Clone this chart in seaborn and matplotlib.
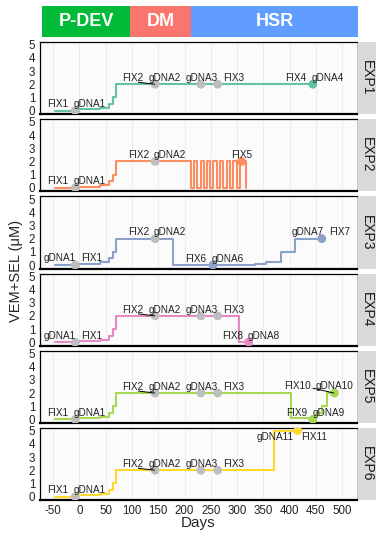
import numpy as np
import pandas as pd
import matplotlib
matplotlib.use("Agg")
import matplotlib.pyplot as plt
import seaborn as sns

sns.set_style("white")
plt.rcParams['font.family'] = ['Liberation Sans', 'DejaVu Sans']
plt.rcParams['axes.unicode_minus'] = False

# experiments and colours
experiments = ["EXP1", "EXP2", "EXP3", "EXP4", "EXP5", "EXP6"]
exp_colors = ["#66C2A5", "#FC8D62", "#8DA0CB", "#E78AC3", "#A6D854", "#FFD92F"]
grey_pt = "#BEBEBE"

# treatment phases (header bar)
phases = ["P-DEV", "DM", "HSR"]
phase_start = [-71, 96, 212]
phase_end = [96, 212, 528]
phase_colors = ["#00BA38", "#F8766D", "#619CFF"]

# dose schedule (step change points): shared ramp then per-experiment tail
ramp_days = [-47, 0, 40, 57, 63, 70]
ramp_dose = [0, 0.1, 0.2, 0.5, 1, 2]

exp1_days = ramp_days + [445]
exp1_dose = ramp_dose + [2]
exp2_days = ramp_days + [212, 218, 224, 231, 237, 243, 249, 255, 262, 268, 274, 280, 286, 293, 299, 305, 317]
exp2_dose = ramp_dose + [0, 2, 0, 2, 0, 2, 0, 2, 0, 2, 0, 2, 0, 2, 0, 2, 0]
exp3_days = ramp_days + [178, 334, 354, 384, 411, 461]
exp3_dose = ramp_dose + [0, 0.1, 0.25, 1, 2, 2]
exp4_days = ramp_days + [303, 322]
exp4_dose = ramp_dose + [0, 0]
exp5_days = ramp_days + [403, 450, 461, 471, 485]
exp5_dose = ramp_dose + [0.1, 0.5, 1, 2, 2]
exp6_days = ramp_days + [371, 415]
exp6_dose = ramp_dose + [5, 5]

all_days = [exp1_days, exp2_days, exp3_days, exp4_days, exp5_days, exp6_days]
all_dose = [exp1_dose, exp2_dose, exp3_dose, exp4_dose, exp5_dose, exp6_dose]

# sample points: grey = shared checkpoints, coloured = experiment end points
chk_day = [-8, 144, 231, 263]
chk_dose = [0, 2, 2, 2]
n_chk = [4, 2, 2, 4, 4, 4]
end_day = [[444], [308], [254, 461], [322], [444, 485], [415]]
end_dose = [[2], [2], [0, 2], [0], [0, 2], [5]]

# labels (text, x, y)
base_lab = [("FIX1", -41, 0.5), ("gDNA1", 20, 0.5), ("FIX2", 101, 2.48), ("gDNA2", 162, 2.48),
            ("gDNA3", 233, 2.48), ("FIX3", 294, 2.48)]
swap_lab = [("gDNA1", -38, 0.5), ("FIX1", 23, 0.5)]
labels = [
    base_lab + [("FIX4", 411, 2.48), ("gDNA4", 472, 2.48)],
    base_lab[:2] + [("FIX2", 112, 2.48), ("gDNA2", 172, 2.48), ("FIX5", 308, 2.48)],
    swap_lab + [("FIX2", 112, 2.48), ("gDNA2", 172, 2.48), ("FIX6", 222, 0.48),
                ("gDNA6", 282, 0.48), ("gDNA7", 434, 2.48), ("FIX7", 494, 2.48)],
    swap_lab + base_lab[2:] + [("FIX8", 291, 0.5), ("gDNA8", 351, 0.5)],
    base_lab + [("FIX10", 415, 2.5), ("gDNA10", 486, 2.5), ("FIX9", 413, 0.5), ("gDNA9", 474, 0.5)],
    base_lab + [("gDNA11", 373, 4.55), ("FIX11", 447, 4.55)],
]
# leader segments (x0, y0, x1, y1)
fix2_seg = (112, 2.15, 143, 2.0)
segments = [[fix2_seg], [], [], [fix2_seg], [fix2_seg, (444, 2.37, 484, 2.0)], [fix2_seg]]

rows = []
for e, d_list, v_list in zip(experiments, all_days, all_dose):
    for d, v in zip(d_list, v_list):
        rows.append({"exp": e, "day": d, "dose": v})
df = pd.DataFrame(rows)

W, H = 376, 537
fig = plt.figure(figsize=(W / 100, H / 100), dpi=100)

def box(x0, y0, x1, y1):
    return [x0 / W, 1 - y1 / H, (x1 - x0) / W, (y1 - y0) / H]

xlim = (-75, 528)
left_px, right_px = 40, 357

# header
axh = fig.add_axes(box(left_px, 6, right_px + 1, 37))
axh.barh(0.5, [e - s for s, e in zip(phase_start, phase_end)], left=phase_start,
         height=1, color=phase_colors, edgecolor="none")
for name, s, e in zip(phases, phase_start, phase_end):
    axh.text((s + e) / 2, 0.5, name, ha="center", va="center", color="white",
             fontsize=13, fontweight="bold")
axh.set_xlim(xlim)
axh.set_ylim(0, 1)
axh.axis("off")

ph = 72.2
gap = 5
for i, e in enumerate(experiments):
    top = 42 + i * (ph + gap)
    ax = fig.add_axes(box(left_px, top, right_px, top + ph))
    ax.set_facecolor("#FBFBFB")
    for xv in range(-50, 501, 50):
        ax.axvline(xv, color="#EBEBEB", lw=0.6, zorder=0)
    sub = df[df["exp"] == e]
    sns.lineplot(data=sub, x="day", y="dose", ax=ax, color=exp_colors[i],
                 drawstyle="steps-post", estimator=None, sort=False, lw=1.5, zorder=2)
    pts = pd.DataFrame({"day": chk_day[:n_chk[i]], "dose": chk_dose[:n_chk[i]]})
    sns.scatterplot(data=pts, x="day", y="dose", ax=ax, color=grey_pt, s=40,
                    edgecolor="none", zorder=3)
    endp = pd.DataFrame({"day": end_day[i], "dose": end_dose[i]})
    sns.scatterplot(data=endp, x="day", y="dose", ax=ax, color=exp_colors[i], s=40,
                    edgecolor="none", zorder=3)
    for x0, y0, x1, y1 in segments[i]:
        ax.plot([x0, x1], [y0, y1], color="black", lw=0.7, zorder=4)
    for t, x, y in labels[i]:
        ax.text(x, y, t, ha="center", va="center", fontsize=7.2, color="#222222", zorder=5)
    ax.set_xlim(xlim)
    ax.set_ylim(-0.27, 5.2)
    ax.set_yticks(range(6))
    ax.set_xticks(range(-50, 501, 50))
    ax.set_xlabel("")
    ax.set_ylabel("")
    ax.tick_params(axis="both", direction="out", length=2.5, width=0.8, colors="black",
                   labelsize=8.3, labelcolor="#222222", pad=1)
    if i < len(experiments) - 1:
        ax.set_xticklabels([])
    for side in ["left", "top"]:
        ax.spines[side].set_color("black")
        ax.spines[side].set_linewidth(0.9)
    ax.spines["bottom"].set_color("black")
    ax.spines["bottom"].set_linewidth(1.6)
    ax.spines["right"].set_color("#BBBBBB")
    ax.spines["right"].set_linewidth(0.6)

    axs = fig.add_axes(box(right_px + 1, top, W, top + ph))
    axs.set_facecolor("#D9D9D9")
    axs.set_xticks([])
    axs.set_yticks([])
    for sp in axs.spines.values():
        sp.set_visible(False)
    axs.text(0.5, 0.5, e, rotation=-90, ha="center", va="center", fontsize=10,
             color="#1A1A1A", transform=axs.transAxes)

fig.text(16 / W, 1 - 271 / H, "VEM+SEL (μM)", rotation=90, ha="center", va="center",
         fontsize=10.5)
fig.text((left_px + right_px) / 2 / W, 1 - 523 / H, "Days", ha="center", va="center",
         fontsize=11)

fig.savefig("out.png", dpi=100)
